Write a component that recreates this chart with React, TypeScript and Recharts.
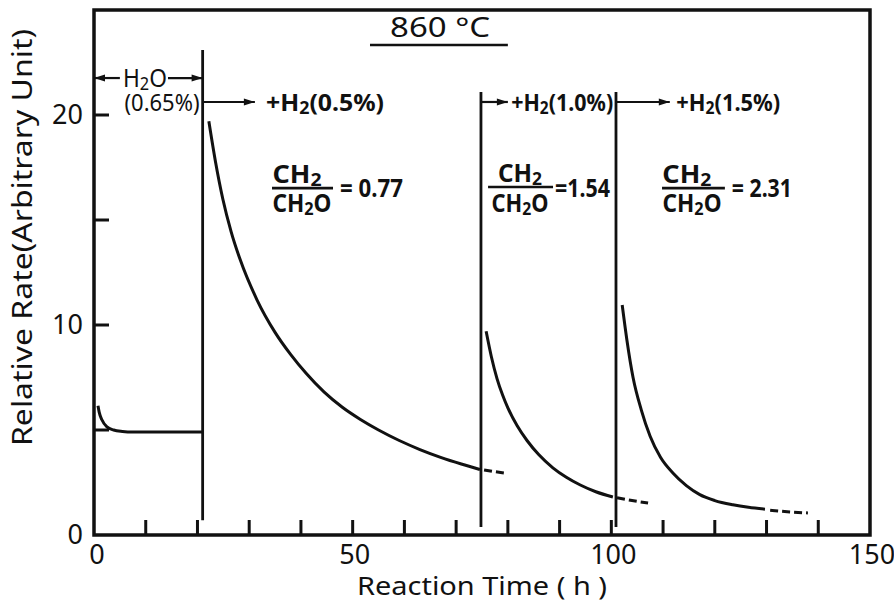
import React from 'react';
import { ComposedChart, Line, XAxis, YAxis, ReferenceLine, ReferenceDot, ReferenceArea } from 'recharts';

// ---------- data ----------
const xTicks = [0, 10, 20, 30, 40, 50, 60, 70, 80, 90, 100, 110, 120, 130, 140, 150];
const xTickLabels = [0, 50, 100, 150];
const yTicks = [0, 5, 10, 15, 20];
const yTickLabels = [0, 10, 20];

// H2O only (0.65%)
const curveH2O = [
  { x: 0.77, y: 6.15 }, { x: 1.0, y: 5.85 }, { x: 1.5, y: 5.5 }, { x: 2.5, y: 5.15 },
  { x: 3.8, y: 5.0 }, { x: 5.5, y: 4.93 }, { x: 7.5, y: 4.9 }, { x: 21.0, y: 4.9 },
];
// + H2 (0.5%)
const curveH05 = [
  { x: 22.2, y: 19.7 }, { x: 23.5, y: 17.75 }, { x: 24.9, y: 16.0 }, { x: 26.5, y: 14.45 },
  { x: 28.2, y: 13.15 }, { x: 31.5, y: 11.2 }, { x: 35, y: 9.65 }, { x: 38, y: 8.6 },
  { x: 41, y: 7.7 }, { x: 44.5, y: 6.8 }, { x: 48, y: 6.08 }, { x: 51.5, y: 5.5 },
  { x: 55, y: 5.0 }, { x: 59, y: 4.5 }, { x: 63, y: 4.07 }, { x: 67, y: 3.7 },
  { x: 71, y: 3.38 }, { x: 74.6, y: 3.12 },
];
const tailH05 = [{ x: 75.4, y: 3.1 }, { x: 77.4, y: 3.02 }, { x: 79.4, y: 2.95 }];
// + H2 (1.0%)
const curveH10 = [
  { x: 75.8, y: 9.7 }, { x: 76.8, y: 8.5 }, { x: 77.9, y: 7.45 }, { x: 79.0, y: 6.65 },
  { x: 80.0, y: 6.05 }, { x: 81.8, y: 5.2 }, { x: 83.7, y: 4.5 }, { x: 86.0, y: 3.82 },
  { x: 88.7, y: 3.2 }, { x: 91.3, y: 2.75 }, { x: 94.0, y: 2.38 }, { x: 97.0, y: 2.06 },
  { x: 100.3, y: 1.81 },
];
const tailH10 = [{ x: 101.1, y: 1.77 }, { x: 104, y: 1.64 }, { x: 107.1, y: 1.52 }];
// + H2 (1.5%)
const curveH15 = [
  { x: 102.1, y: 10.95 }, { x: 103.0, y: 9.3 }, { x: 104.2, y: 7.5 }, { x: 105.8, y: 5.95 },
  { x: 107.5, y: 4.7 }, { x: 109.5, y: 3.7 }, { x: 111.9, y: 2.95 }, { x: 114.5, y: 2.35 },
  { x: 117.1, y: 1.92 }, { x: 120, y: 1.64 }, { x: 123.5, y: 1.44 }, { x: 126.5, y: 1.32 },
  { x: 129.7, y: 1.23 },
];
const tailH15 = [{ x: 130.7, y: 1.18 }, { x: 134, y: 1.11 }, { x: 138, y: 1.05 }];

// gas-switch times (h) and the vertical marker extents
const switchLines = [
  { x: 21, y1: 0.7, y2: 23.1 },
  { x: 74.8, y1: 0.38, y2: 21.1 },
  { x: 100.9, y1: 0.38, y2: 21.1 },
];
const ratioValues = ['0.77', '1.54', '2.31'];
const gasLabels = ['H2O', '(0.65%)', '+H2(0.5%)', '+H2(1.0%)', '+H2(1.5%)'];
const titleText = '860 °C';

// ---------- layout / styles ----------
const FONT = "'Noto Sans', 'DejaVu Sans', Arial, sans-serif";
const INK = '#111';

// split a formula into runs, rendering a digit after "H" as a subscript
function chem(s: string, size: number) {
  const runs: { t: string; sub: boolean }[] = [];
  for (let i = 0; i < s.length; i++) {
    const c = s[i];
    const sub = /\d/.test(c) && i > 0 && s[i - 1] === 'H';
    const last = runs[runs.length - 1];
    if (last && last.sub === sub && !sub) last.t += c;
    else runs.push({ t: c, sub });
  }
  const out: any[] = [];
  let lowered = false;
  runs.forEach((r, i) => {
    if (r.sub) {
      out.push(<tspan key={i} fontSize={size * 0.72} dy={3}>{r.t}</tspan>);
      lowered = true;
    } else if (lowered) {
      out.push(<tspan key={i} dy={-3}>{r.t}</tspan>);
      lowered = false;
    } else {
      out.push(<tspan key={i}>{r.t}</tspan>);
    }
  });
  return out;
}

function txt(cx: number, cy: number, s: string, size: number, len: number, anchor: string = 'middle', weight: any = 700) {
  return (
    <text x={cx} y={cy} fontSize={size} fontFamily={FONT} fontWeight={weight} fill={INK}
      textAnchor={anchor} textLength={len} lengthAdjust="spacingAndGlyphs">
      {chem(s, size)}
    </text>
  );
}

const arrowLine = (head: 'start' | 'end' | 'none', width = 2.2) => (p: any) => {
  const { x1, y1, x2, y2 } = p;
  const hx = head === 'end' ? x2 : x1;
  const hy = head === 'end' ? y2 : y1;
  const ox = head === 'end' ? x1 : x2;
  const dir = hx >= ox ? 1 : -1;
  return (
    <g>
      <line x1={x1} y1={y1} x2={x2} y2={y2} stroke={INK} strokeWidth={width} />
      {head !== 'none' && (
        <polygon points={`${hx},${hy} ${hx - dir * 11},${hy - 3.5} ${hx - dir * 11},${hy + 3.5}`} fill={INK} />
      )}
    </g>
  );
};

// annotation placement in data units (x: h, y: rate)
const rowA = 21.76;
const rowB = 20.62;
const arrows = [
  { x1: 0, x2: 5.0, y: rowA, head: 'start' },
  { x1: 14.3, x2: 21, y: rowA, head: 'end' },
  { x1: 21, x2: 31.1, y: rowB, head: 'end' },
  { x1: 74.8, x2: 80.0, y: rowB, head: 'end' },
  { x1: 100.9, x2: 111.3, y: rowB, head: 'end' },
];
const gasText = [
  { x: 9.86, y: 21.33, w: 44, size: 25 },
  { x: 13.15, y: 20.19, w: 75, size: 23 },
  { x: 44.65, y: 20.19, w: 118, size: 24 },
  { x: 90.5, y: 20.19, w: 102, size: 24 },
  { x: 122.6, y: 20.19, w: 104, size: 24 },
];
const fractions = [
  { lx1: 34.41, lx2: 46.2, ly: 16.52, nx: 39.24, ny: 16.76, nw: 49, dx: 40.2, dy: 15.38, dw: 59, ex: 47.55, ey: 16.1, ew: 63, eq: '= ' },
  { lx1: 76.17, lx2: 88.73, ly: 16.57, nx: 82.35, ny: 16.81, nw: 44, dx: 82.35, dy: 15.38, dw: 57, ex: 89.1, ey: 16.1, ew: 55, eq: '=' },
  { lx1: 109.8, lx2: 121.95, ly: 16.52, nx: 114.6, ny: 16.76, nw: 49, dx: 115.6, dy: 15.38, dw: 59, ex: 123.3, ey: 16.1, ew: 60, eq: '= ' },
];

const renderXTick = (p: any) => {
  const { x, y, payload } = p;
  const v = payload.value;
  return (
    <g key={`xt-${v}`}>
      {v > 0 && v < 150 && <line x1={x} x2={x} y1={y} y2={y - 15} stroke={INK} strokeWidth={3} />}
      {xTickLabels.includes(v) && (
        <text x={x + (v === 0 ? 3 : 2)} y={y + 29} fontSize={27} fontFamily={FONT} fill={INK} textAnchor="middle">{v}</text>
      )}
    </g>
  );
};

const renderYTick = (p: any) => {
  const { x, y, payload } = p;
  const v = payload.value;
  return (
    <g key={`yt-${v}`}>
      {v > 0 && <line x1={x} x2={x + 15} y1={y} y2={y} stroke={INK} strokeWidth={3} />}
      {yTickLabels.includes(v) && (
        <text x={x - 11} y={y + 9} fontSize={27} fontFamily={FONT} fill={INK} textAnchor="end">{v}</text>
      )}
    </g>
  );
};

const renderYLabel = (p: any) => {
  const vb = p.viewBox || { x: 0, y: 10, width: 94, height: 525 };
  const cx = vb.x + 32;
  const cy = vb.y + vb.height / 2 - 35;
  return (
    <text x={cx} y={cy} transform={`rotate(-90 ${cx} ${cy})`} fontSize={27} fontFamily={FONT} fill={INK}
      textAnchor="middle" textLength={417} lengthAdjust="spacingAndGlyphs">
      Relative Rate(Arbitrary Unit)
    </text>
  );
};

const renderXLabel = (p: any) => {
  const vb = p.viewBox || { x: 94, y: 535, width: 776, height: 67 };
  const cx = vb.x + vb.width / 2;
  const cy = vb.y + 60;
  return (
    <text x={cx} y={cy} fontSize={25} fontFamily={FONT} fill={INK} textAnchor="middle" textLength={250} lengthAdjust="spacingAndGlyphs">
      Reaction Time ( h )
    </text>
  );
};

export default function App() {
  return (
    <div style={{ position: 'absolute', left: 0, top: 0, width: 894, height: 602, background: '#fff' }}>
      <ComposedChart width={894} height={602} margin={{ top: 10, right: 24, left: 0, bottom: 0 }}>
        <XAxis type="number" dataKey="x" domain={[0, 150]} ticks={xTicks} interval={0} allowDataOverflow
          axisLine={false} tickLine={false} tickSize={0} tickMargin={0} height={67} tick={renderXTick}
          label={{ content: renderXLabel }} />
        <YAxis type="number" dataKey="y" domain={[0, 25]} ticks={yTicks} interval={0} allowDataOverflow
          axisLine={false} tickLine={false} tickSize={0} tickMargin={0} width={94} tick={renderYTick}
          label={{ content: renderYLabel }} />
        <ReferenceArea x1={0} x2={150} y1={0} y2={25} fill="none" fillOpacity={0} stroke={INK} strokeWidth={3.5} ifOverflow="visible" />

        {switchLines.map((s, i) => (
          <ReferenceLine key={`sw-${i}`} segment={[{ x: s.x, y: s.y1 }, { x: s.x, y: s.y2 }]} stroke={INK} strokeWidth={2.8} />
        ))}

        {arrows.map((a, i) => (
          <ReferenceLine key={`ar-${i}`} segment={[{ x: a.x1, y: a.y }, { x: a.x2, y: a.y }]}
            shape={arrowLine(a.head as any)} />
        ))}

        {/* title */}
        <ReferenceLine segment={[{ x: 53.35, y: 23.33 }, { x: 80.0, y: 23.33 }]} stroke={INK} strokeWidth={2.5} />
        <ReferenceDot x={66.9} y={23.71} r={0} shape={(p: any) => txt(p.cx, p.cy, titleText, 27, 100, 'middle', 400)} />

        {gasText.map((g, i) => (
          <ReferenceDot key={`gt-${i}`} x={g.x} y={g.y} r={0}
            shape={(p: any) => txt(p.cx, p.cy, gasLabels[i], g.size, g.w, 'middle', i < 2 ? 400 : 700)} />
        ))}

        {fractions.map((f, i) => (
          <React.Fragment key={`fr-${i}`}>
            <ReferenceLine segment={[{ x: f.lx1, y: f.ly }, { x: f.lx2, y: f.ly }]} stroke={INK} strokeWidth={2.6} />
            <ReferenceDot x={f.nx} y={f.ny} r={0} shape={(p: any) => txt(p.cx, p.cy, 'CH2', 25, f.nw)} />
            <ReferenceDot x={f.dx} y={f.dy} r={0} shape={(p: any) => txt(p.cx, p.cy, 'CH2O', 25, f.dw)} />
            <ReferenceDot x={f.ex} y={f.ey} r={0} shape={(p: any) => txt(p.cx, p.cy, f.eq + ratioValues[i], 25, f.ew, 'start')} />
          </React.Fragment>
        ))}

        <Line data={curveH2O} dataKey="y" type="monotone" stroke={INK} strokeWidth={3} dot={false} isAnimationActive={false} />
        <Line data={curveH05} dataKey="y" type="monotone" stroke={INK} strokeWidth={3} dot={false} isAnimationActive={false} />
        <Line data={tailH05} dataKey="y" type="monotone" stroke={INK} strokeWidth={3} strokeDasharray="8 4" dot={false} isAnimationActive={false} />
        <Line data={curveH10} dataKey="y" type="monotone" stroke={INK} strokeWidth={3} dot={false} isAnimationActive={false} />
        <Line data={tailH10} dataKey="y" type="monotone" stroke={INK} strokeWidth={3} strokeDasharray="8 4" dot={false} isAnimationActive={false} />
        <Line data={curveH15} dataKey="y" type="monotone" stroke={INK} strokeWidth={3} dot={false} isAnimationActive={false} />
        <Line data={tailH15} dataKey="y" type="monotone" stroke={INK} strokeWidth={3} strokeDasharray="8 4" dot={false} isAnimationActive={false} />
      </ComposedChart>
    </div>
  );
}
